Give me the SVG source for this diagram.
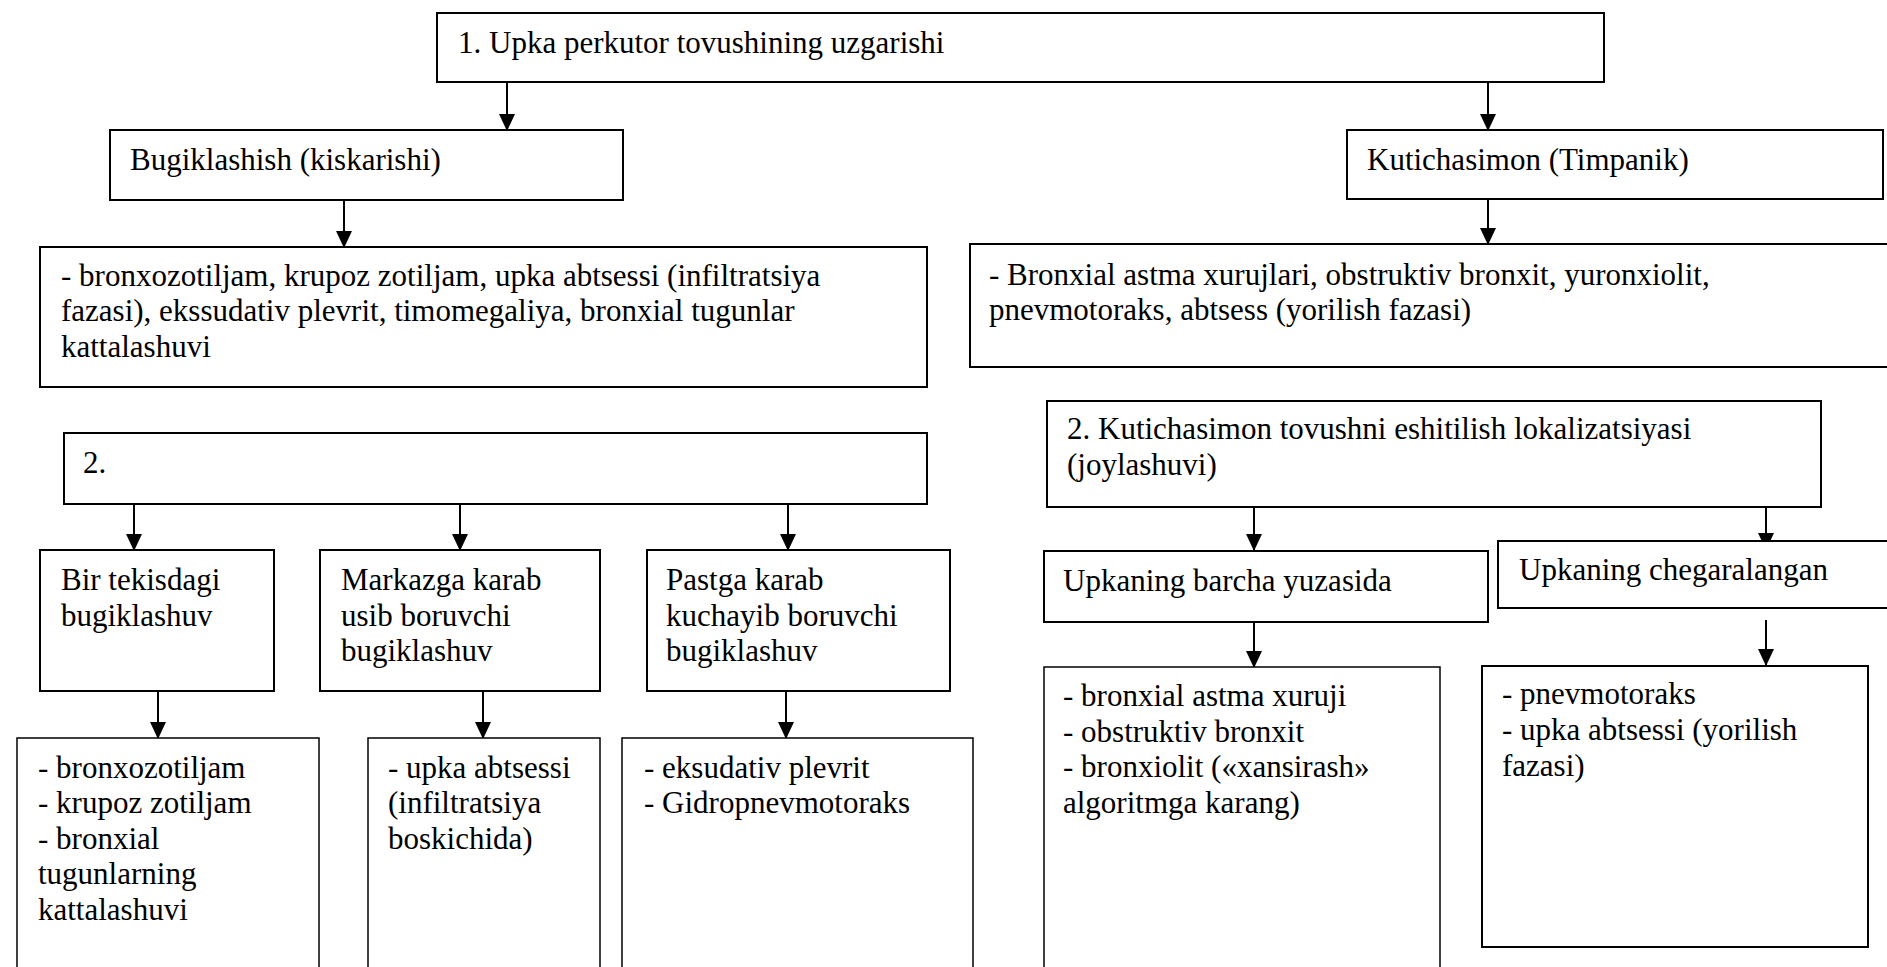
<svg xmlns="http://www.w3.org/2000/svg" width="1887" height="967" viewBox="0 0 1887 967">
  <style>
    .box { fill: #ffffff; stroke: #000000; stroke-width: 2; }
    .thin { fill: #ffffff; stroke: #000000; stroke-width: 1.5; }
    .lbl { font-family: "Liberation Serif", "Times New Roman", serif; font-size: 31px; fill: #000000; }
    .edge { stroke: #000000; stroke-width: 2; fill: none; marker-end: url(#arrow); }
  </style>
  <defs>
    <marker id="arrow" markerUnits="userSpaceOnUse" markerWidth="17" markerHeight="16" refX="17" refY="8" orient="auto">
      <path d="M0,0 L17,8 L0,16 z" fill="#000000"/>
    </marker>
  </defs>
  <rect width="1887" height="967" fill="#ffffff"/>

  <!-- connectors -->
  <g id="connectors">
    <line class="edge" x1="507" y1="82" x2="507" y2="131"/>
    <line class="edge" x1="1488" y1="82" x2="1488" y2="131"/>
    <line class="edge" x1="344" y1="200" x2="344" y2="248"/>
    <line class="edge" x1="1488" y1="199" x2="1488" y2="245"/>
    <line class="edge" x1="134" y1="504" x2="134" y2="551"/>
    <line class="edge" x1="460" y1="504" x2="460" y2="551"/>
    <line class="edge" x1="788" y1="504" x2="788" y2="551"/>
    <line class="edge" x1="158" y1="691" x2="158" y2="739"/>
    <line class="edge" x1="483" y1="691" x2="483" y2="739"/>
    <line class="edge" x1="786" y1="691" x2="786" y2="739"/>
    <line class="edge" x1="1254" y1="507" x2="1254" y2="551"/>
    <line class="edge" x1="1766" y1="503" x2="1766" y2="550"/>
    <line class="edge" x1="1254" y1="622" x2="1254" y2="668"/>
    <line class="edge" x1="1766" y1="620" x2="1766" y2="666"/>
  </g>

  <!-- level 1 -->
  <g id="n-root">
    <rect class="box" x="437" y="13" width="1167" height="69"/>
    <text class="lbl" x="458" y="53">1. Upka perkutor tovushining uzgarishi</text>
  </g>

  <!-- dullness branch -->
  <g id="n-bugik">
    <rect class="box" x="110" y="130" width="513" height="70"/>
    <text class="lbl" x="130" y="170">Bugiklashish (kiskarishi)</text>
  </g>
  <g id="n-bugik-list">
    <rect class="box" x="40" y="247" width="887" height="140"/>
    <text class="lbl" x="61" y="286">- bronxozotiljam, krupoz zotiljam, upka abtsessi (infiltratsiya</text>
    <text class="lbl" x="61" y="321">fazasi), ekssudativ plevrit, timomegaliya, bronxial tugunlar</text>
    <text class="lbl" x="61" y="357">kattalashuvi</text>
  </g>

  <!-- tympanic branch -->
  <g id="n-timp">
    <rect class="box" x="1347" y="130" width="536" height="69"/>
    <text class="lbl" x="1367" y="170">Kutichasimon (Timpanik)</text>
  </g>
  <g id="n-timp-list">
    <rect class="box" x="970" y="244" width="930" height="123"/>
    <text class="lbl" x="989" y="285">- Bronxial astma xurujlari, obstruktiv bronxit, yuronxiolit,</text>
    <text class="lbl" x="989" y="320">pnevmotoraks, abtsess (yorilish fazasi)</text>
  </g>

  <!-- dullness distribution -->
  <g id="n-two-left">
    <rect class="box" x="64" y="433" width="863" height="71"/>
    <text class="lbl" x="83" y="473">2.</text>
  </g>
  <g id="n-even">
    <rect class="box" x="40" y="550" width="234" height="141"/>
    <text class="lbl" x="61" y="590">Bir tekisdagi</text>
    <text class="lbl" x="61" y="626">bugiklashuv</text>
  </g>
  <g id="n-center">
    <rect class="box" x="320" y="550" width="280" height="141"/>
    <text class="lbl" x="341" y="590">Markazga karab</text>
    <text class="lbl" x="341" y="626">usib boruvchi</text>
    <text class="lbl" x="341" y="661">bugiklashuv</text>
  </g>
  <g id="n-down">
    <rect class="box" x="647" y="550" width="303" height="141"/>
    <text class="lbl" x="666" y="590">Pastga karab</text>
    <text class="lbl" x="666" y="626">kuchayib boruvchi</text>
    <text class="lbl" x="666" y="661">bugiklashuv</text>
  </g>
  <g id="n-even-list">
    <rect class="thin" x="17" y="738" width="302" height="260"/>
    <text class="lbl" x="38" y="778">- bronxozotiljam</text>
    <text class="lbl" x="38" y="813">- krupoz zotiljam</text>
    <text class="lbl" x="38" y="849">- bronxial</text>
    <text class="lbl" x="38" y="884">tugunlarning</text>
    <text class="lbl" x="38" y="920">kattalashuvi</text>
  </g>
  <g id="n-center-list">
    <rect class="thin" x="368" y="738" width="232" height="260"/>
    <text class="lbl" x="388" y="778">- upka abtsessi</text>
    <text class="lbl" x="388" y="813">(infiltratsiya</text>
    <text class="lbl" x="388" y="849">boskichida)</text>
  </g>
  <g id="n-down-list">
    <rect class="thin" x="622" y="738" width="351" height="260"/>
    <text class="lbl" x="644" y="778">- eksudativ plevrit</text>
    <text class="lbl" x="644" y="813">- Gidropnevmotoraks</text>
  </g>

  <!-- tympanic localisation -->
  <g id="n-two-right">
    <rect class="box" x="1047" y="401" width="774" height="106"/>
    <text class="lbl" x="1067" y="439">2. Kutichasimon tovushni eshitilish lokalizatsiyasi</text>
    <text class="lbl" x="1067" y="475">(joylashuvi)</text>
  </g>
  <g id="n-whole">
    <rect class="box" x="1044" y="551" width="444" height="71"/>
    <text class="lbl" x="1063" y="591">Upkaning barcha yuzasida</text>
  </g>
  <g id="n-limited">
    <rect class="box" x="1498" y="541" width="400" height="67"/>
    <text class="lbl" x="1519" y="580">Upkaning chegaralangan</text>
  </g>
  <g id="n-whole-list">
    <rect class="thin" x="1044" y="667" width="396" height="330"/>
    <text class="lbl" x="1063" y="706">- bronxial astma xuruji</text>
    <text class="lbl" x="1063" y="742">- obstruktiv bronxit</text>
    <text class="lbl" x="1063" y="777">- bronxiolit («xansirash»</text>
    <text class="lbl" x="1063" y="813">algoritmga karang)</text>
  </g>
  <g id="n-limited-list">
    <rect class="box" x="1482" y="666" width="386" height="281"/>
    <text class="lbl" x="1502" y="704">- pnevmotoraks</text>
    <text class="lbl" x="1502" y="740">- upka abtsessi (yorilish</text>
    <text class="lbl" x="1502" y="776">fazasi)</text>
  </g>
</svg>
